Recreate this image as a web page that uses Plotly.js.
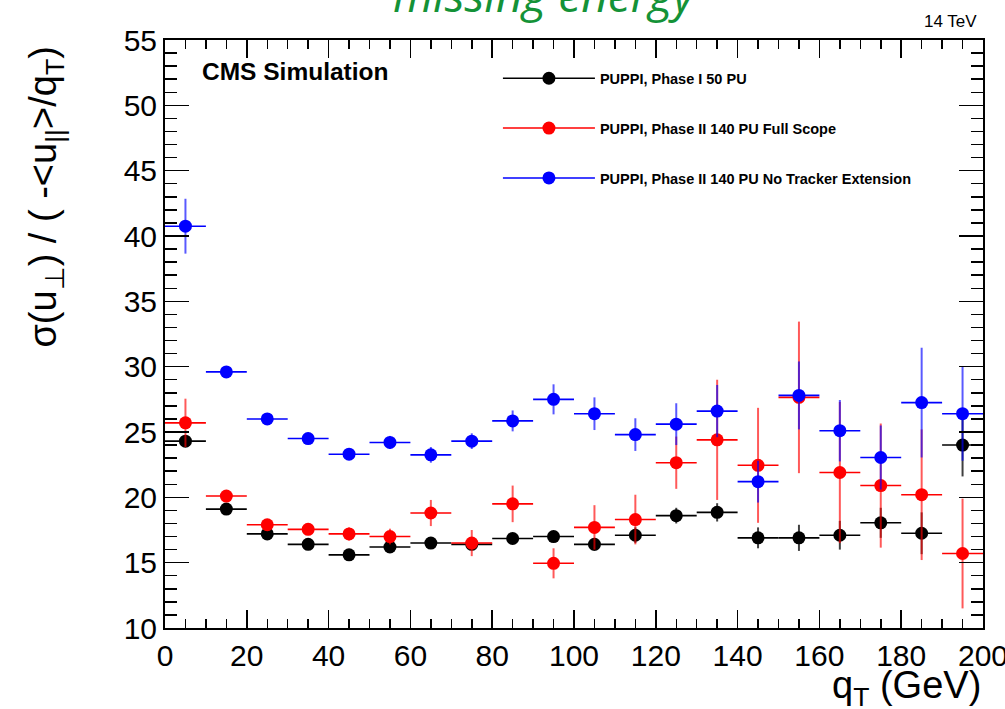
<!DOCTYPE html>
<html>
<head>
<meta charset="utf-8">
<script src="https://cdn.plot.ly/plotly-3.0.1.min.js"></script>
<style>html,body{margin:0;padding:0;background:#fff;}#chart{width:1005px;height:709px;}</style>
</head>
<body>
<div id="chart"></div>
<script>
// bin centres (GeV) and half-widths
const qT = [5,15,25,35,45,55,65,75,85,95,105,115,125,135,145,155,165,175,185,195];
const binHalfWidth = [5,5,5,5,5,5,5,5,5,5,5,5,5,5,5,5,5,5,5,5];

// PUPPI, Phase I 50 PU
const phase1 = [24.3,19.1,17.2,16.4,15.6,16.2,16.5,16.4,16.85,17.0,16.4,17.1,18.6,18.85,16.9,16.9,17.1,18.05,17.25,24.0];
const phase1Err = [0.4,0.3,0.3,0.3,0.3,0.4,0.4,0.4,0.4,0.4,0.5,0.6,0.6,0.7,0.8,1.0,1.1,1.15,1.6,2.4];

// PUPPI, Phase II 140 PU Full Scope
const phase2Full = [25.7,20.1,17.9,17.55,17.2,17.0,18.8,16.5,19.5,14.95,17.7,18.3,22.65,24.4,22.45,27.65,21.9,20.9,20.2,15.7];
const phase2FullErr = [1.85,0.35,0.3,0.35,0.5,0.6,1.0,1.0,1.4,1.15,1.7,1.9,2.0,4.6,4.4,5.8,5.4,4.75,5.0,4.2];

// PUPPI, Phase II 140 PU No Tracker Extension
const phase2NoExt = [40.75,29.6,26.0,24.5,23.3,24.2,23.25,24.3,25.85,27.5,26.4,24.8,25.6,26.6,21.2,27.8,25.1,23.05,27.25,26.4];
const phase2NoExtErr = [2.1,0.35,0.3,0.3,0.3,0.5,0.6,0.6,0.8,1.15,1.25,1.25,1.6,2.0,1.6,2.6,2.35,2.45,4.2,3.6];

const seriesNames = ["PUPPI, Phase I 50 PU","PUPPI, Phase II 140 PU Full Scope","PUPPI, Phase II 140 PU No Tracker Extension"];
const seriesColors = ["#000000","#ff0000","#0000ff"];
const seriesErrColors = ["rgba(0,0,0,0.75)","rgba(255,0,0,0.65)","rgba(0,0,255,0.65)"];
const seriesY = [phase1, phase2Full, phase2NoExt];
const seriesErr = [phase1Err, phase2FullErr, phase2NoExtErr];

const traces = [];
for (let i = 0; i < 3; i++) {
  traces.push({
    type: "scatter", mode: "markers", x: qT, y: seriesY[i], name: seriesNames[i],
    showlegend: false, cliponaxis: true,
    marker: {color: seriesColors[i], size: 13},
    error_x: {type: "data", array: binHalfWidth, symmetric: true, width: 0, thickness: 1.6, color: seriesColors[i]},
    error_y: {type: "data", array: seriesErr[i], symmetric: true, width: 0, thickness: 2, color: seriesErrColors[i]}
  });
}
for (let i = 0; i < 3; i++) {
  traces.push({
    type: "scatter", mode: "lines+markers", x: [null], y: [null], name: seriesNames[i],
    legendgroup: "g" + i, showlegend: true,
    marker: {color: seriesColors[i], size: 13},
    line: {color: seriesColors[i], width: 1.5}
  });
}

const fontFam = "Liberation Sans, Arial, Helvetica, sans-serif";
const layout = {
  width: 1005, height: 709,
  margin: {l: 165, r: 22, t: 40, b: 81, pad: 0},
  paper_bgcolor: "#ffffff", plot_bgcolor: "#ffffff",
  showlegend: true,
  legend: {
    x: 0.407, y: 0.962, xanchor: "left", yanchor: "top",
    bgcolor: "rgba(0,0,0,0)", borderwidth: 0,
    font: {family: fontFam, size: 14.5, color: "#000", weight: "bold"},
    itemwidth: 92, tracegroupgap: 28, traceorder: "grouped"
  },
  xaxis: {
    range: [0, 200], dtick: 20, tick0: 0,
    ticks: "inside", ticklen: 18, tickwidth: 1.5, tickcolor: "#000",
    minor: {dtick: 5, ticklen: 9, tickwidth: 1.5, tickcolor: "#000", ticks: "inside"},
    showline: true, linewidth: 2, linecolor: "#000", mirror: "allticks",
    showgrid: false, zeroline: false, ticklabeloverflow: "allow",
    tickfont: {family: fontFam, size: 30, color: "#000"}
  },
  yaxis: {
    range: [10, 55], dtick: 5, tick0: 10,
    ticks: "inside", ticklen: 24, tickwidth: 1.5, tickcolor: "#000",
    minor: {dtick: 1, ticklen: 12, tickwidth: 1.5, tickcolor: "#000", ticks: "inside"},
    showline: true, linewidth: 2, linecolor: "#000", mirror: "allticks",
    showgrid: false, zeroline: false,
    tickfont: {family: fontFam, size: 30, color: "#000"}
  },
  annotations: [
    {text: "<i>missing energy</i>", xref: "paper", yref: "paper", x: 0.465, y: 1.0215,
     xanchor: "center", yanchor: "bottom", showarrow: false,
     font: {family: "Open Sans, sans-serif", size: 46, color: "#149237"}},
    {text: "14 TeV", xref: "paper", yref: "paper", x: 0.995, y: 1.031,
     xanchor: "right", yanchor: "middle", showarrow: false,
     font: {family: fontFam, size: 17, color: "#000"}},
    {text: "<b>CMS Simulation</b>", xref: "paper", yref: "paper", x: 0.043, y: 0.9456,
     xanchor: "left", yanchor: "middle", showarrow: false,
     font: {family: fontFam, size: 24.5, color: "#000"}},
    {text: "σ(u<sub>⊥</sub>) / ( -&lt;u<sub>||</sub>&gt;/q<sub>T</sub>)", xref: "paper", yref: "paper",
     x: -0.145, y: 0.992, xanchor: "center", yanchor: "top", textangle: -90, showarrow: false,
     font: {family: fontFam, size: 38, color: "#000"}},
    {text: "q<sub>T</sub> (GeV)", xref: "paper", yref: "paper", x: 1.0, y: -0.102,
     xanchor: "right", yanchor: "middle", showarrow: false,
     font: {family: fontFam, size: 38, color: "#000"}}
  ]
};

Plotly.newPlot("chart", traces, layout, {displayModeBar: false, staticPlot: true});
</script>
</body>
</html>
